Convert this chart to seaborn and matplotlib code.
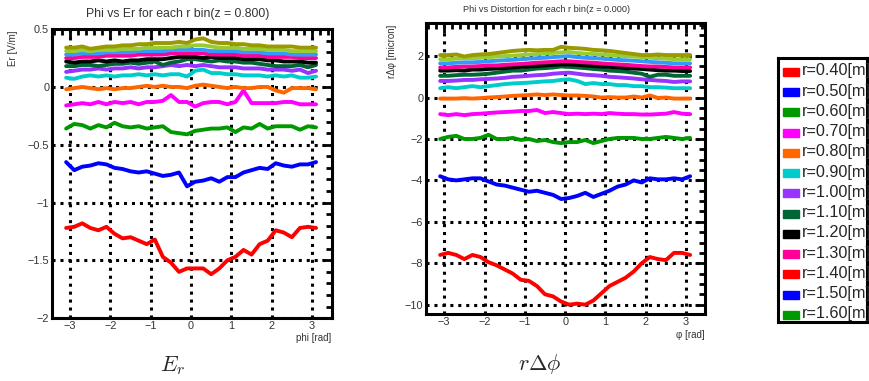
import numpy as np
import pandas as pd
import matplotlib
matplotlib.use("Agg")
import matplotlib.pyplot as plt
from matplotlib.ticker import MultipleLocator, FuncFormatter
from matplotlib.patches import Rectangle
import seaborn as sns

# ==============================================================================
# DATOS
# ==============================================================================
phi = [-3.1, -2.9, -2.7, -2.5, -2.3, -2.1, -1.9, -1.7, -1.5, -1.3, -1.1, -0.9,
       -0.7, -0.5, -0.3, -0.1, 0.1, 0.3, 0.5, 0.7, 0.9, 1.1, 1.3, 1.5,
       1.7, 1.9, 2.1, 2.3, 2.5, 2.7, 2.9, 3.1]

r_labels = ["r=0.40[m]", "r=0.50[m]", "r=0.60[m]", "r=0.70[m]", "r=0.80[m]",
            "r=0.90[m]", "r=1.00[m]", "r=1.10[m]", "r=1.20[m]", "r=1.30[m]",
            "r=1.40[m]", "r=1.50[m]", "r=1.60[m]"]

line_colors = ["#ff0000", "#0000ff", "#009900", "#ff00ff", "#ff6600", "#00cccc",
               "#9933ff", "#006633", "#000000", "#ff0099", "#3399ff", "#99cc33",
               "#999900"]
legend_colors = ["#ff0000", "#0000ff", "#009900", "#ff00ff", "#ff6600", "#00cccc",
                 "#9933ff", "#006633", "#000000", "#ff0099", "#ff0000", "#0000ff",
                 "#009900"]

# Er [V/m] por bin de r
er_040 = [-1.22, -1.21, -1.18, -1.22, -1.24, -1.21, -1.27, -1.31, -1.30, -1.33, -1.36, -1.32,
          -1.47, -1.52, -1.60, -1.57, -1.57, -1.57, -1.62, -1.57, -1.50, -1.47, -1.41, -1.45,
          -1.36, -1.33, -1.24, -1.26, -1.30, -1.22, -1.21, -1.22]
er_050 = [-0.65, -0.72, -0.69, -0.68, -0.66, -0.67, -0.70, -0.71, -0.73, -0.74, -0.73, -0.75,
          -0.77, -0.76, -0.74, -0.86, -0.82, -0.81, -0.79, -0.82, -0.78, -0.78, -0.74, -0.72,
          -0.70, -0.71, -0.66, -0.68, -0.69, -0.67, -0.67, -0.65]
er_060 = [-0.36, -0.32, -0.33, -0.36, -0.33, -0.35, -0.31, -0.34, -0.35, -0.34, -0.36, -0.35,
          -0.34, -0.39, -0.40, -0.41, -0.38, -0.37, -0.36, -0.36, -0.35, -0.39, -0.35, -0.36,
          -0.32, -0.36, -0.34, -0.34, -0.34, -0.37, -0.34, -0.35]
er_070 = [-0.16, -0.15, -0.14, -0.15, -0.13, -0.15, -0.13, -0.14, -0.13, -0.15, -0.13, -0.13,
          -0.12, -0.07, -0.13, -0.13, -0.17, -0.14, -0.13, -0.13, -0.15, -0.13, -0.03, -0.14,
          -0.14, -0.14, -0.14, -0.13, -0.13, -0.15, -0.15, -0.15]
er_080 = [-0.02, -0.01, 0.00, -0.01, -0.02, -0.01, -0.02, -0.01, -0.01, 0.00, 0.01, 0.00,
          0.01, 0.00, 0.00, -0.01, 0.01, 0.02, 0.01, 0.00, -0.01, 0.00, -0.01, -0.01,
          0.00, 0.00, -0.03, -0.05, -0.01, -0.01, -0.01, -0.02]
er_090 = [0.08, 0.07, 0.09, 0.10, 0.09, 0.10, 0.09, 0.10, 0.10, 0.11, 0.10, 0.11,
          0.10, 0.11, 0.11, 0.09, 0.14, 0.15, 0.12, 0.12, 0.11, 0.11, 0.10, 0.10,
          0.10, 0.09, 0.10, 0.09, 0.10, 0.08, 0.08, 0.09]
er_100 = [0.13, 0.14, 0.15, 0.15, 0.16, 0.15, 0.16, 0.16, 0.17, 0.16, 0.17, 0.17,
          0.18, 0.19, 0.18, 0.19, 0.18, 0.19, 0.18, 0.17, 0.17, 0.17, 0.16, 0.16,
          0.16, 0.15, 0.15, 0.15, 0.14, 0.15, 0.12, 0.14]
er_110 = [0.18, 0.18, 0.19, 0.19, 0.18, 0.19, 0.20, 0.20, 0.21, 0.20, 0.21, 0.22,
          0.19, 0.21, 0.22, 0.24, 0.24, 0.23, 0.22, 0.23, 0.22, 0.22, 0.21, 0.21,
          0.20, 0.19, 0.18, 0.18, 0.18, 0.19, 0.17, 0.19]
er_120 = [0.22, 0.21, 0.22, 0.22, 0.23, 0.22, 0.23, 0.22, 0.23, 0.23, 0.24, 0.24,
          0.24, 0.25, 0.26, 0.26, 0.26, 0.25, 0.26, 0.25, 0.25, 0.25, 0.24, 0.24,
          0.24, 0.23, 0.23, 0.22, 0.22, 0.22, 0.21, 0.21]
er_130 = [0.25, 0.25, 0.26, 0.26, 0.26, 0.27, 0.27, 0.27, 0.27, 0.28, 0.28, 0.28,
          0.28, 0.29, 0.29, 0.29, 0.29, 0.29, 0.28, 0.28, 0.28, 0.28, 0.27, 0.27,
          0.27, 0.26, 0.26, 0.26, 0.26, 0.25, 0.25, 0.25]
er_140 = [0.28, 0.28, 0.29, 0.29, 0.29, 0.30, 0.30, 0.30, 0.30, 0.31, 0.31, 0.31,
          0.31, 0.32, 0.32, 0.32, 0.32, 0.32, 0.31, 0.31, 0.31, 0.31, 0.30, 0.30,
          0.30, 0.29, 0.29, 0.29, 0.28, 0.28, 0.28, 0.28]
er_150 = [0.31, 0.31, 0.32, 0.31, 0.32, 0.32, 0.32, 0.33, 0.33, 0.33, 0.34, 0.34,
          0.34, 0.34, 0.35, 0.35, 0.36, 0.36, 0.35, 0.34, 0.34, 0.34, 0.33, 0.33,
          0.33, 0.32, 0.32, 0.32, 0.31, 0.31, 0.31, 0.31]
er_160 = [0.34, 0.34, 0.35, 0.33, 0.34, 0.35, 0.35, 0.36, 0.36, 0.37, 0.37, 0.38,
          0.38, 0.38, 0.39, 0.38, 0.41, 0.42, 0.39, 0.38, 0.38, 0.37, 0.37, 0.36,
          0.36, 0.35, 0.35, 0.35, 0.35, 0.34, 0.34, 0.34]

# r*dphi [micron] por bin de r
dp_040 = [-7.6, -7.5, -7.6, -7.8, -7.6, -7.7, -7.95, -8.1, -8.3, -8.5, -8.8, -8.85,
          -9.1, -9.5, -9.6, -9.85, -10.0, -9.95, -10.0, -9.8, -9.45, -9.1, -8.9, -8.7,
          -8.4, -8.0, -7.7, -7.8, -7.85, -7.5, -7.5, -7.6]
dp_050 = [-3.8, -3.95, -4.0, -3.95, -3.9, -3.9, -4.05, -4.2, -4.25, -4.35, -4.45, -4.55,
          -4.5, -4.6, -4.7, -4.9, -4.85, -4.75, -4.6, -4.8, -4.65, -4.5, -4.3, -4.2,
          -4.0, -4.1, -3.9, -3.95, -3.95, -3.9, -3.95, -3.8]
dp_060 = [-2.0, -1.9, -1.85, -2.0, -2.0, -1.95, -1.8, -2.0, -2.0, -1.95, -2.05, -2.0,
          -2.1, -2.05, -2.15, -2.2, -2.15, -2.15, -2.05, -2.2, -2.1, -2.0, -1.95, -1.95,
          -1.95, -2.0, -2.0, -1.95, -1.9, -1.95, -2.0, -1.95]
dp_070 = [-0.8, -0.85, -0.8, -0.85, -0.8, -0.78, -0.75, -0.72, -0.7, -0.68, -0.65, -0.65,
          -0.6, -0.75, -0.7, -0.75, -0.8, -0.78, -0.8, -0.78, -0.8, -0.75, -0.78, -0.8,
          -0.8, -0.82, -0.82, -0.8, -0.78, -0.7, -0.78, -0.8]
dp_080 = [-0.05, -0.05, -0.05, -0.03, -0.05, -0.03, 0.0, 0.02, 0.05, 0.08, 0.1, 0.12,
          0.15, 0.12, 0.15, 0.12, 0.1, 0.1, 0.08, 0.05, 0.0, 0.02, 0.0, 0.0,
          0.05, 0.0, 0.1, -0.02, 0.0, -0.05, -0.05, -0.05]
dp_090 = [0.45, 0.5, 0.45, 0.5, 0.55, 0.5, 0.55, 0.6, 0.65, 0.68, 0.7, 0.72,
          0.75, 0.78, 0.8, 0.85, 0.88, 0.8, 0.65, 0.7, 0.65, 0.65, 0.6, 0.6,
          0.55, 0.55, 0.5, 0.5, 0.48, 0.45, 0.45, 0.45]
dp_100 = [0.8, 0.8, 0.82, 0.85, 0.85, 0.88, 0.9, 0.92, 0.95, 1.0, 1.02, 1.05,
          1.08, 1.1, 1.15, 1.18, 1.2, 1.15, 1.1, 1.08, 1.05, 1.0, 0.98, 0.95,
          0.92, 0.88, 0.85, 0.82, 0.8, 0.75, 0.78, 0.78]
dp_110 = [1.05, 1.05, 1.08, 1.1, 1.1, 1.12, 1.15, 1.2, 1.25, 1.3, 1.3, 1.35,
          1.4, 1.42, 1.45, 1.5, 1.48, 1.45, 1.42, 1.38, 1.35, 1.3, 1.28, 1.25,
          1.2, 1.15, 1.0, 1.1, 1.1, 1.05, 1.05, 1.05]
dp_120 = [1.3, 1.3, 1.32, 1.3, 1.35, 1.35, 1.38, 1.4, 1.42, 1.45, 1.48, 1.5,
          1.52, 1.55, 1.58, 1.6, 1.6, 1.58, 1.55, 1.52, 1.5, 1.48, 1.45, 1.42,
          1.4, 1.38, 1.35, 1.32, 1.3, 1.3, 1.28, 1.28]
dp_130 = [1.45, 1.45, 1.48, 1.5, 1.5, 1.52, 1.55, 1.55, 1.58, 1.6, 1.62, 1.65,
          1.68, 1.7, 1.72, 1.75, 1.75, 1.72, 1.7, 1.68, 1.65, 1.62, 1.6, 1.58,
          1.55, 1.52, 1.5, 1.5, 1.48, 1.45, 1.45, 1.45]
dp_140 = [1.65, 1.65, 1.68, 1.7, 1.7, 1.72, 1.75, 1.78, 1.8, 1.82, 1.85, 1.88,
          1.9, 1.92, 1.95, 1.98, 2.0, 1.95, 1.92, 1.9, 1.88, 1.85, 1.82, 1.8,
          1.78, 1.75, 1.72, 1.7, 1.68, 1.65, 1.65, 1.65]
dp_150 = [1.85, 1.85, 1.88, 1.9, 1.9, 1.92, 1.95, 1.98, 2.0, 2.02, 2.05, 2.08,
          2.1, 2.12, 2.15, 2.18, 2.2, 2.15, 2.12, 2.1, 2.08, 2.05, 2.02, 2.0,
          1.98, 1.95, 1.92, 1.9, 1.88, 1.85, 1.85, 1.85]
dp_160 = [2.05, 2.05, 2.08, 1.98, 2.05, 2.08, 2.1, 2.15, 2.2, 2.25, 2.28, 2.3,
          2.28, 2.3, 2.3, 2.45, 2.4, 2.38, 2.35, 2.3, 2.28, 2.25, 2.2, 2.15,
          2.1, 2.05, 2.05, 2.08, 2.05, 2.05, 2.05, 2.05]

er_series = [er_040, er_050, er_060, er_070, er_080, er_090, er_100,
             er_110, er_120, er_130, er_140, er_150, er_160]
dp_series = [dp_040, dp_050, dp_060, dp_070, dp_080, dp_090, dp_100,
             dp_110, dp_120, dp_130, dp_140, dp_150, dp_160]


def tabla(series):
    filas = []
    for etiqueta, valores in zip(r_labels, series):
        for p, v in zip(phi, valores):
            filas.append({"phi": p, "valor": v, "r": etiqueta})
    return pd.DataFrame(filas)


# etiquetas tipo ROOT: 0.5, 0, -0.5, -1 ... con signo menos tipográfico
fmt = FuncFormatter(lambda v, pos: ("%g" % round(v, 6)).replace("-", "\u2212"))


def estilo_root(ax, xmin, xmax, ymin, ymax, ymaj, ymin_step):
    ax.set_xlim(xmin, xmax)
    ax.set_ylim(ymin, ymax)
    ax.xaxis.set_major_locator(MultipleLocator(1))
    ax.xaxis.set_minor_locator(MultipleLocator(0.2))
    ax.yaxis.set_major_locator(MultipleLocator(ymaj))
    ax.yaxis.set_minor_locator(MultipleLocator(ymin_step))
    ax.yaxis.set_major_formatter(fmt)
    ax.xaxis.set_major_formatter(fmt)
    ax.tick_params(which="both", direction="in", top=True, right=True,
                   width=2, labelsize=7.8, pad=2, colors="black", labelcolor="#333333")
    ax.tick_params(which="major", length=7)
    ax.tick_params(which="minor", length=4)
    ax.grid(True, which="major", color="black", linestyle=(0, (1, 1.6)), linewidth=2.2)
    for s in ax.spines.values():
        s.set_linewidth(2.2)
        s.set_color("black")
    ax.set_xlabel("")
    ax.set_ylabel("")


sns.set_style("white")
plt.rcParams["font.family"] = ["Liberation Sans", "DejaVu Sans"]
plt.rcParams["mathtext.fontset"] = "cm"

fig = plt.figure(figsize=(8.7, 3.81), dpi=100)
palette = dict(zip(r_labels, line_colors))

# ---- Panel Er ----
ax1 = fig.add_axes([0.0598, 0.165, 0.322, 0.7585])
sns.lineplot(data=tabla(er_series), x="phi", y="valor", hue="r", palette=palette,
             linewidth=2.8, ax=ax1, legend=False, sort=False)
estilo_root(ax1, -3.45, 3.5, -2.0, 0.5, 0.5, 0.1)
fig.text(0.204, 0.962, "Phi vs Er for each r bin(z = 0.800)", fontsize=8.8,
         ha="center", va="center", color="#333333")
fig.text(0.015, 0.92, "Er [V/m]", rotation=90, fontsize=7, ha="center", va="top",
         color="#333333")
fig.text(0.381, 0.113, "phi [rad]", fontsize=7, ha="right", va="center", color="#333333")
fig.text(0.198, 0.04, r"$E_r$", fontsize=16, ha="center", va="center")

# ---- Panel r*dphi ----
ax2 = fig.add_axes([0.4897, 0.1759, 0.3207, 0.7638])
sns.lineplot(data=tabla(dp_series), x="phi", y="valor", hue="r", palette=palette,
             linewidth=2.8, ax=ax2, legend=False, sort=False)
estilo_root(ax2, -3.45, 3.47, -10.45, 3.6, 2, 0.5)
fig.text(0.628, 0.975, "Phi vs Distortion for each r bin(z = 0.000)", fontsize=6.6,
         ha="center", va="center", color="#333333")
fig.text(0.451, 0.935, "r\u0394\u03c6 [micron]", rotation=90, fontsize=7,
         ha="center", va="top", color="#333333")
fig.text(0.81, 0.12, "\u03c6 [rad]", fontsize=7, ha="right", va="center", color="#333333")
fig.text(0.62, 0.045, r"$r\Delta\phi$", fontsize=16, ha="center", va="center")

# ---- Leyenda (caja al estilo ROOT) ----
axl = fig.add_axes([0.894, 0.155, 0.103, 0.693])
axl.set_xlim(0, 90)
axl.set_ylim(264, 0)
axl.set_xticks([])
axl.set_yticks([])
for s in axl.spines.values():
    s.set_linewidth(2.2)
    s.set_color("black")
for i, (etiqueta, color) in enumerate(zip(r_labels, legend_colors)):
    y = 12 + i * 20.25
    axl.add_patch(Rectangle((5, y - 2), 16, 8, color=color))
    t = axl.text(24.5, y + 1, etiqueta, fontsize=11.7, va="center", ha="left")
    t.set_clip_path(axl.patch)

fig.savefig("out.png", dpi=100)
